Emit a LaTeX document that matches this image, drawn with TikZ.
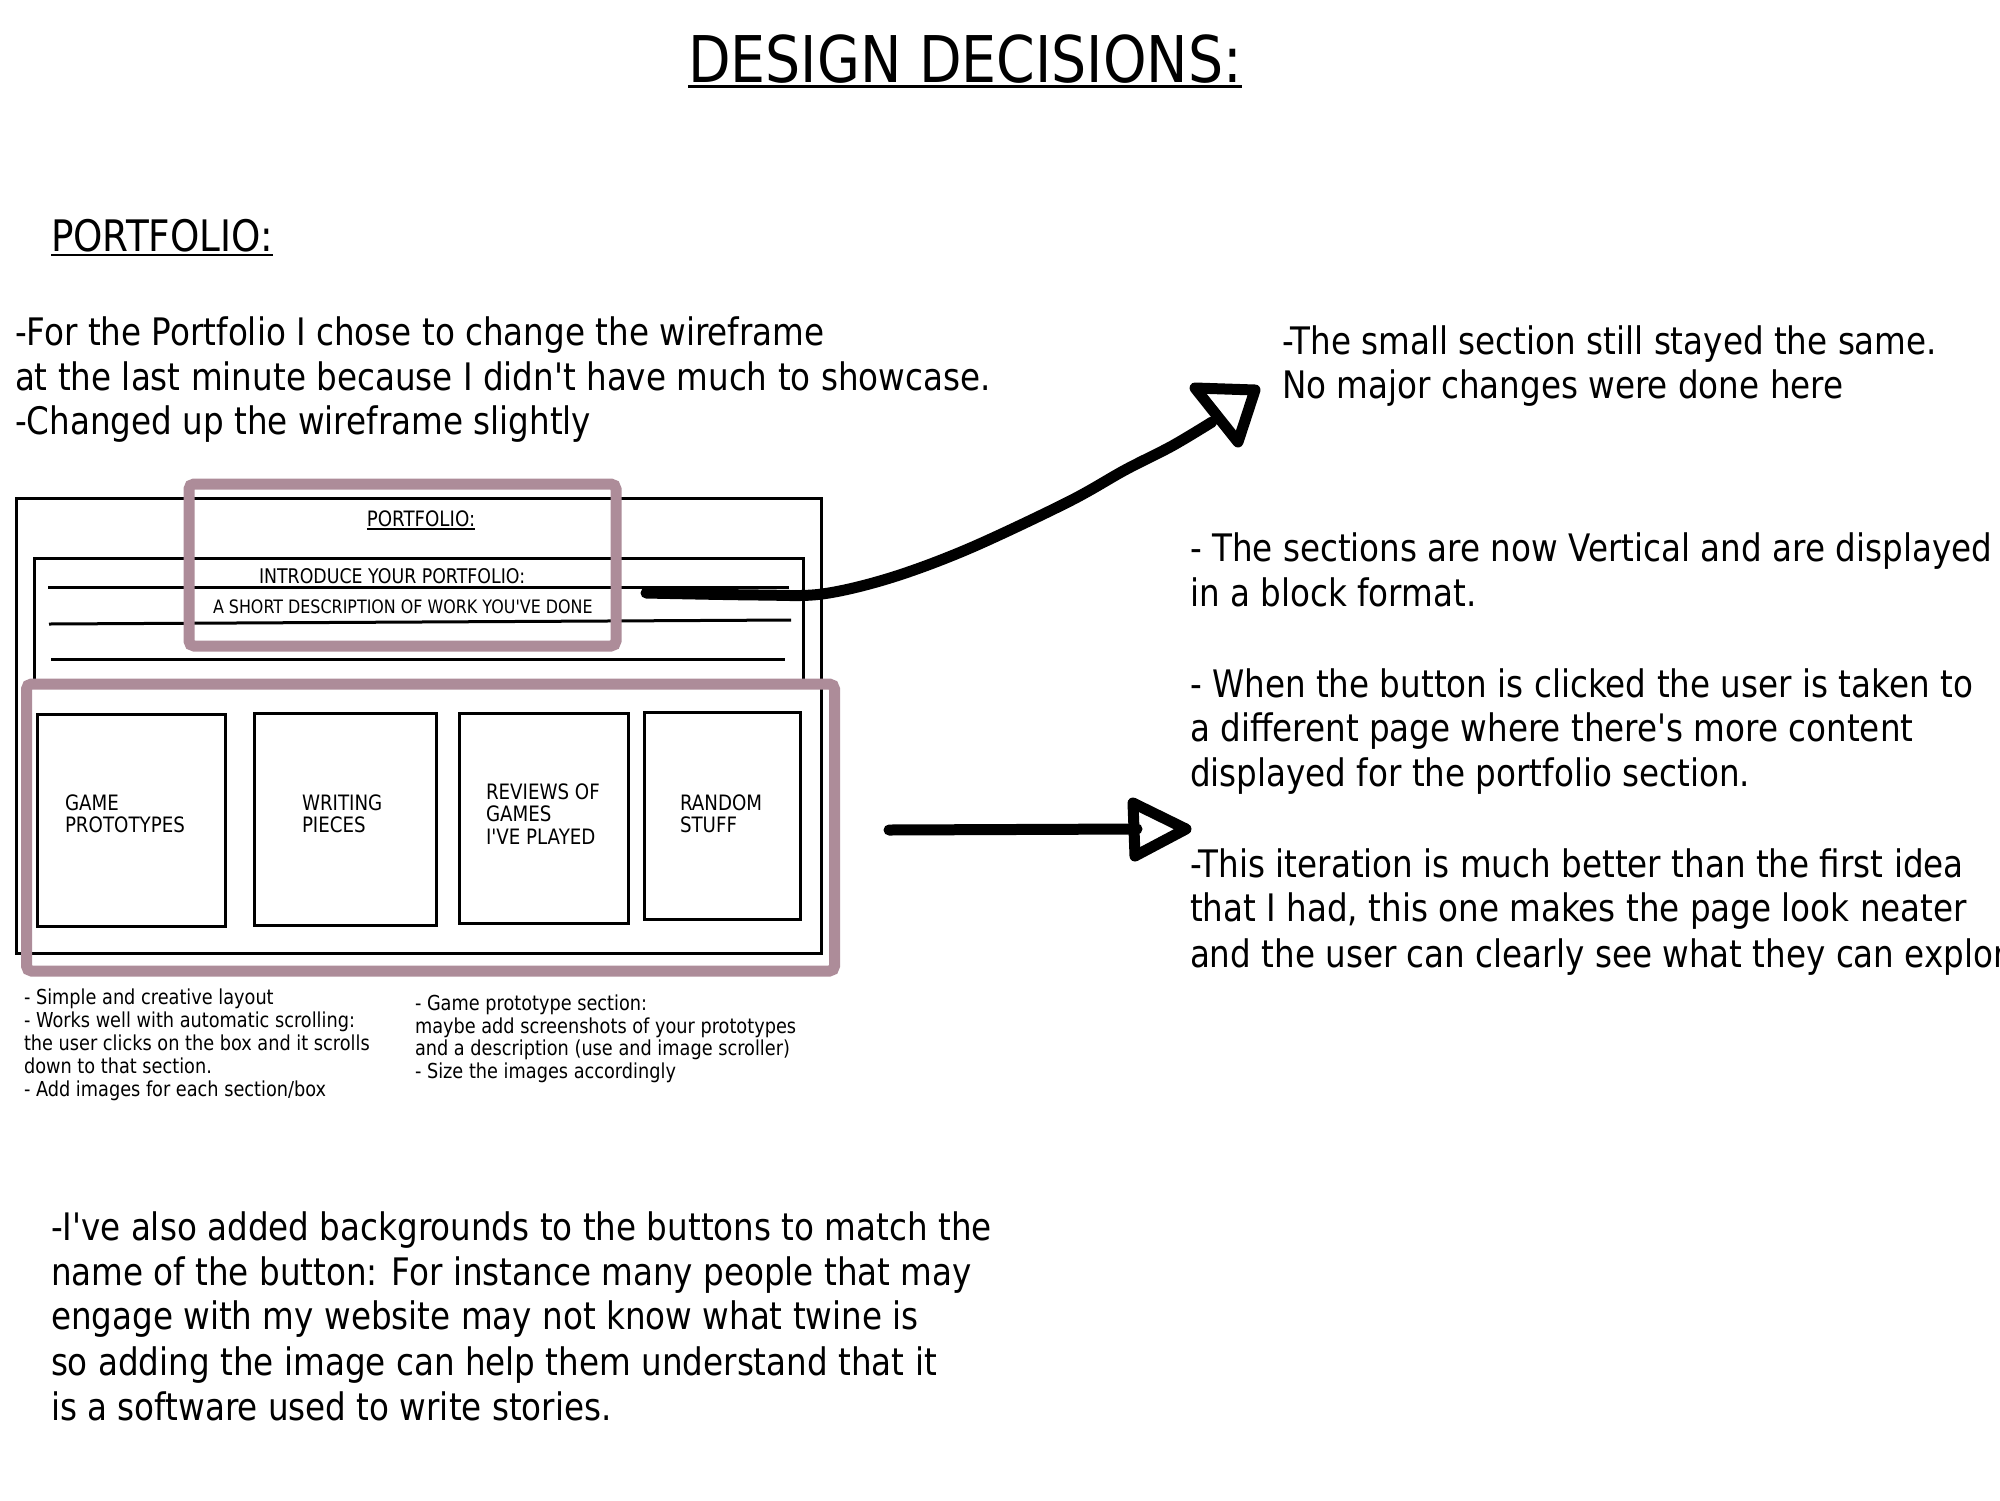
\documentclass[tikz,border=0pt]{standalone}
\usepackage{fontspec}
\setmainfont{DejaVu Sans}[FakeStretch=0.86, Ligatures=TeXOff]
\definecolor{mauve}{RGB}{173,140,153}
\begin{document}
\begin{tikzpicture}[x=1pt,y=-1pt,
  every node/.style={inner sep=0pt, outer sep=0pt},
  bodytxt/.style={anchor=base west, font=\fontsize{37.9}{44}\selectfont},
  smalltxt/.style={anchor=base west, font=\fontsize{20.6}{24}\selectfont},
  wiretxt/.style={anchor=base west, font=\fontsize{20.2}{24}\selectfont},
  labeltxt/.style={anchor=base west, font=\fontsize{21.2}{24}\selectfont},
  wire/.style={draw=black, line width=3pt},
  hilite/.style={draw=mauve, line width=11pt, rounded corners=5pt},
  pen/.style={draw=black, line width=11pt, line cap=round, line join=round}]
\useasboundingbox (0,0) rectangle (2000,1500);
\begin{scope}
\clip (0,0) rectangle (2000,1500);
\fill[white] (0,0) rectangle (2000,1500);

% Title
\node[anchor=base west, font=\fontsize{64.4}{72}\selectfont] (title) at (688,82) {DESIGN DECISIONS:};
\draw[line width=3pt] ([yshift=-4.5pt]title.base west) -- ([yshift=-4.5pt]title.base east);

% Heading
\node[anchor=base west, font=\fontsize{43.4}{50}\selectfont] (head) at (51,251) {PORTFOLIO:};
\draw[line width=2.5pt] ([yshift=-4pt]head.base west) -- ([yshift=-4pt]head.base east);

% Left paragraph
\node[bodytxt] (p1a) at (15,345) {-For the Portfolio I chose to change the wireframe};
\node[bodytxt] (p1b) at (15,390) {at the last minute because I didn't have much to showcase.};
\node[bodytxt] (p1c) at (15,434) {-Changed up the wireframe slightly};

% Right texts
\node[bodytxt] (r1a) at (1282,354) {-The small section still stayed the same.};
\node[bodytxt] (r1b) at (1282,398) {No major changes were done here};

\node[bodytxt] (r2a) at (1190,561) {- The sections are now Vertical and are displayed};
\node[bodytxt] (r2b) at (1190,606) {in a block format.};

\node[bodytxt] (r3a) at (1190,697) {- When the button is clicked the user is taken to};
\node[bodytxt] (r3b) at (1190,741) {a different page where there's more content};
\node[bodytxt] (r3c) at (1190,786) {displayed for the portfolio section.};

\node[bodytxt] (r4a) at (1190,877) {-This iteration is much better than the first idea};
\node[bodytxt] (r4b) at (1190,921) {that I had, this one makes the page look neater};
\node[bodytxt] (r4c) at (1190,967) {and the user can clearly see what they can explore};

% Bottom paragraph
\node[bodytxt] (b1) at (51,1240) {-I've also added backgrounds to the buttons to match the};
\node[bodytxt] (b2) at (51,1285) {name of the button: For instance many people that may};
\node[bodytxt] (b3) at (51,1329) {engage with my website may not know what twine is};
\node[bodytxt] (b4) at (51,1375) {so adding the image can help them understand that it};
\node[bodytxt] (b5) at (51,1420) {is a software used to write stories.};

% Wireframe
\draw[wire] (16,498) rectangle (821,953);
\draw[wire] (34,558) rectangle (803,684);
\draw[wire] (48,587) -- (789,587);
\draw[wire] (49,624) -- (791,620);
\draw[wire] (51,659) -- (785,659);

\node[anchor=base, font=\fontsize{21.2}{24}\selectfont] (wport) at (421,526) {PORTFOLIO:};
\draw[line width=1.5pt] ([yshift=-3pt]wport.base west) -- ([yshift=-3pt]wport.base east);
\node[wiretxt] (wintro) at (259,583) {INTRODUCE YOUR PORTFOLIO:};
\node[wiretxt, font=\fontsize{18.5}{22}\selectfont] (wdesc) at (213,613) {A SHORT DESCRIPTION OF WORK YOU'VE DONE};

\draw[wire] (37,714) rectangle (225,926);
\draw[wire] (254,713) rectangle (436,925);
\draw[wire] (459,713) rectangle (628,923);
\draw[wire] (644,712) rectangle (800,919);

\node[labeltxt] (g1) at (65,810) {GAME};
\node[labeltxt] (g2) at (65,832) {PROTOTYPES};
\node[labeltxt] (w1) at (302,810) {WRITING};
\node[labeltxt] (w2) at (302,832) {PIECES};
\node[labeltxt] (v1) at (486,799) {REVIEWS OF};
\node[labeltxt] (v2) at (486,821) {GAMES};
\node[labeltxt] (v3) at (486,844) {I'VE PLAYED};
\node[labeltxt] (s1) at (680,810) {RANDOM};
\node[labeltxt] (s2) at (680,832) {STUFF};

% highlight boxes
\draw[hilite] (189,484) rectangle (616,646);
\draw[hilite] (26.5,684) rectangle (834.5,971);

% Notes under wireframe
\node[smalltxt] (n1) at (24,1004) {- Simple and creative layout};
\node[smalltxt] (n2) at (24,1027) {- Works well with automatic scrolling:};
\node[smalltxt] (n3) at (24,1050) {the user clicks on the box and it scrolls};
\node[smalltxt] (n4) at (24,1073) {down to that section.};
\node[smalltxt] (n5) at (24,1096) {- Add images for each section/box};

\node[smalltxt] (m1) at (415,1010) {- Game prototype section:};
\node[smalltxt] (m2) at (415,1033) {maybe add screenshots of your prototypes};
\node[smalltxt] (m3) at (415,1055) {and a description (use and image scroller)};
\node[smalltxt] (m4) at (415,1078) {- Size the images accordingly};

% Curved arrow
\coordinate (a1s) at (646,593);
\coordinate (a1e) at (1212,422);
\draw[pen] plot[smooth, tension=0.55] coordinates {(a1s) (760,595) (822,594) (890,578) (968,549) (1068,502) (1125,470) (1172,446) (a1e)};
\draw[pen] (1195,388) -- (1255,390) -- (1238,442) -- cycle;

% Straight arrow
\coordinate (a2s) at (889,830);
\coordinate (a2e) at (1137,829);
\draw[pen] (a2s) -- (a2e);
\draw[pen] (1133,803) -- (1186,829) -- (1135,856) -- cycle;
\end{scope}
\end{tikzpicture}
\end{document}
